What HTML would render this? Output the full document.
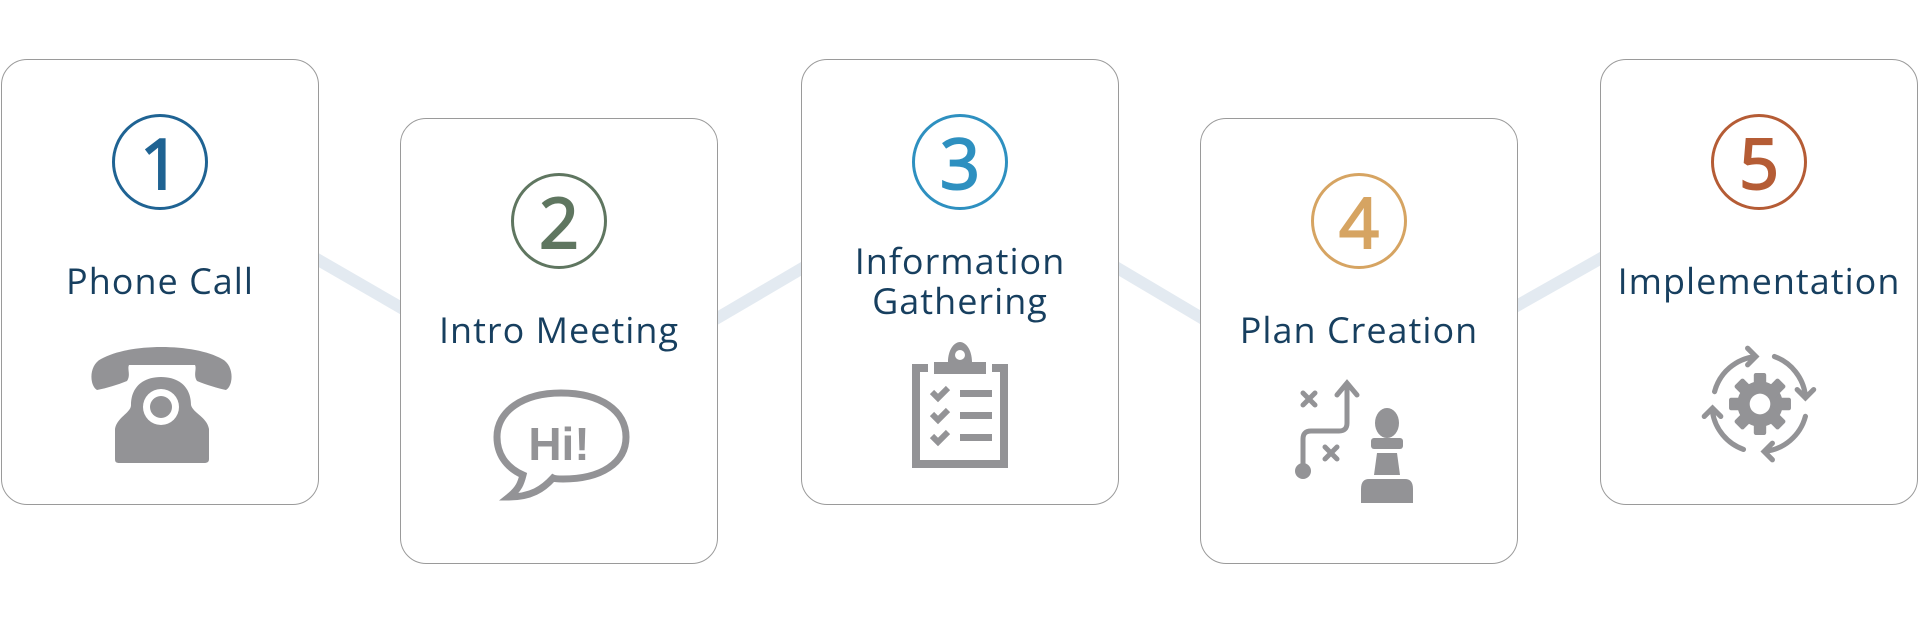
<!DOCTYPE html>
<html><head><meta charset="utf-8"><style>
body{margin:0;width:1920px;height:625px;background:#fff;overflow:hidden;position:relative;font-family:"Open Sans","Liberation Sans",sans-serif}
.card{position:absolute;width:318px;height:446px;border:1.5px solid #9a9a9a;border-radius:26px;background:#fff;box-sizing:border-box}
.num{position:absolute;width:96px;height:96px;border:3.5px solid;border-radius:50%;box-sizing:border-box;text-align:center;font-size:70px;line-height:90px;font-weight:normal;-webkit-text-stroke:2px currentColor}
.lbl{position:absolute;left:0;width:100%;text-align:center;color:#173f5f;font-size:36px;line-height:40px;letter-spacing:1px}
svg.ic{position:absolute}
</style></head><body>
<svg style="position:absolute;left:0;top:0" width="1920" height="625">
<g stroke="#e3eaf1" stroke-width="12">
<line x1="315" y1="258" x2="405" y2="310"/>
<line x1="714" y1="320" x2="806" y2="266"/>
<line x1="1114" y1="266" x2="1205" y2="320"/>
<line x1="1513" y1="308" x2="1605" y2="256"/>
</g></svg>

<div class="card" style="left:1px;top:59px">
<div class="num" style="left:110px;top:54px;border-color:#1f6393;color:#1f6393">1</div>
<div class="lbl" style="top:201px">Phone Call</div>
<svg class="ic" style="left:87px;top:285px" width="145" height="120" viewBox="0 0 145 120">
<g fill="#939396">
<path d="M8 45 C0 40 0 20 12 14 C40 -2 105 -2 133 14 C145 20 145 40 137 45 C128 43 118 40 108 36 C104 30 108 24 106 20 L40 20 C38 24 42 30 38 36 C28 40 18 43 8 45Z"/>
<path d="M42 60 C42 42 54 32 72 32 C90 32 102 42 102 60 C104 68 118 72 120 84 L120 114 C120 118 117 118 114 118 L32 118 C28 118 26 118 26 114 L26 84 C28 72 42 68 42 60Z"/>
</g>
<circle cx="72" cy="62" r="18" fill="#fff"/><circle cx="72" cy="62" r="11" fill="#939396"/>
</svg>
</div>

<div class="card" style="left:400px;top:118px">
<div class="num" style="left:110px;top:54px;border-color:#5f7660;color:#5f7660">2</div>
<div class="lbl" style="top:191px">Intro Meeting</div>
<svg class="ic" style="left:90px;top:268px" width="145" height="120" viewBox="0 0 145 120">
<path d="M70 6 C110 6 135 24 135 50 C135 76 110 92 72 92 C68 92 64 92 62 91 C52 102 40 110 18 110 C28 102 30 96 32 88 C14 80 6 66 6 50 C6 24 32 6 70 6Z" fill="none" stroke="#939396" stroke-width="7"/>
<text x="68" y="73" text-anchor="middle" font-family="Liberation Sans,sans-serif" font-weight="bold" font-size="46" fill="#939396">Hi!</text>
</svg>
</div>

<div class="card" style="left:801px;top:59px">
<div class="num" style="left:110px;top:54px;border-color:#2e90c0;color:#2e90c0">3</div>
<div class="lbl" style="top:181px;line-height:40px">Information<br>Gathering</div>
<svg class="ic" style="left:110px;top:282px" width="100" height="128" viewBox="0 0 100 128">
<g fill="#939396">
<path d="M0 22 L16 22 L16 30 L8 30 L8 118 L88 118 L88 30 L80 30 L80 22 L96 22 L96 126 L0 126Z"/>
<path d="M22 20 L36 20 C36 8 42 0 48 0 C54 0 60 8 60 20 L74 20 L74 32 L22 32Z"/>
<rect x="48" y="48" width="32" height="7"/><rect x="48" y="70" width="32" height="7"/><rect x="48" y="92" width="32" height="7"/>
</g>
<circle cx="48" cy="13" r="5" fill="#fff"/>
<g fill="none" stroke="#939396" stroke-width="6"><path d="M20 50 l6 6 l10 -10"/><path d="M20 72 l6 6 l10 -10"/><path d="M20 94 l6 6 l10 -10"/></g>
</svg>
</div>

<div class="card" style="left:1200px;top:118px">
<div class="num" style="left:110px;top:54px;border-color:#d6a462;color:#d6a462">4</div>
<div class="lbl" style="top:191px">Plan Creation</div>
<svg class="ic" style="left:94px;top:260px" width="130" height="130" viewBox="0 0 130 130">
<g fill="none" stroke="#939396" stroke-width="5" stroke-linecap="round">
<path d="M8 92 L8 60 Q8 52 16 52 L44 52 Q52 52 52 44 L52 4 M42 16 L52 4 L62 16"/>
<path d="M8 14 L20 26 M20 14 L8 26"/><path d="M30 68 L42 80 M42 68 L30 80"/>
</g>
<circle cx="8" cy="92" r="8" fill="#939396"/>
<g fill="#939396"><ellipse cx="92" cy="44" rx="12" ry="15"/><rect x="76" y="59" width="32" height="11" rx="3"/><path d="M82 74 L102 74 L105 96 L79 96Z"/><path d="M74 100 L110 100 Q118 100 118 110 L118 124 L66 124 L66 110 Q66 100 74 100Z"/></g>
</svg>
</div>

<div class="card" style="left:1600px;top:59px">
<div class="num" style="left:110px;top:54px;border-color:#b55c35;color:#b55c35">5</div>
<div class="lbl" style="top:201px">Implementation</div>
<svg class="ic" style="left:95px;top:280px" width="128" height="128" viewBox="0 0 124 124">
<g fill="none" stroke="#939396" stroke-width="5" stroke-linecap="round">
<path d="M18 50 A46 46 0 0 1 58 16 M50 8 L58 16 L50 24"/>
<path d="M76 16 A46 46 0 0 1 106 54 M98 48 L106 56 L114 48"/>
<path d="M106 74 A46 46 0 0 1 66 108 M74 100 L66 108 L74 116"/>
<path d="M46 106 A46 46 0 0 1 16 70 M8 74 L16 66 L24 74"/>
</g>
<g fill="#939396" transform="translate(62,62)">
<circle r="22"/>
<g><rect x="-6" y="-30" width="12" height="60" rx="2"/><rect x="-6" y="-30" width="12" height="60" rx="2" transform="rotate(45)"/><rect x="-6" y="-30" width="12" height="60" rx="2" transform="rotate(90)"/><rect x="-6" y="-30" width="12" height="60" rx="2" transform="rotate(135)"/></g>
</g>
<circle cx="62" cy="62" r="10" fill="#fff"/>
</svg>
</div>
</body></html>
